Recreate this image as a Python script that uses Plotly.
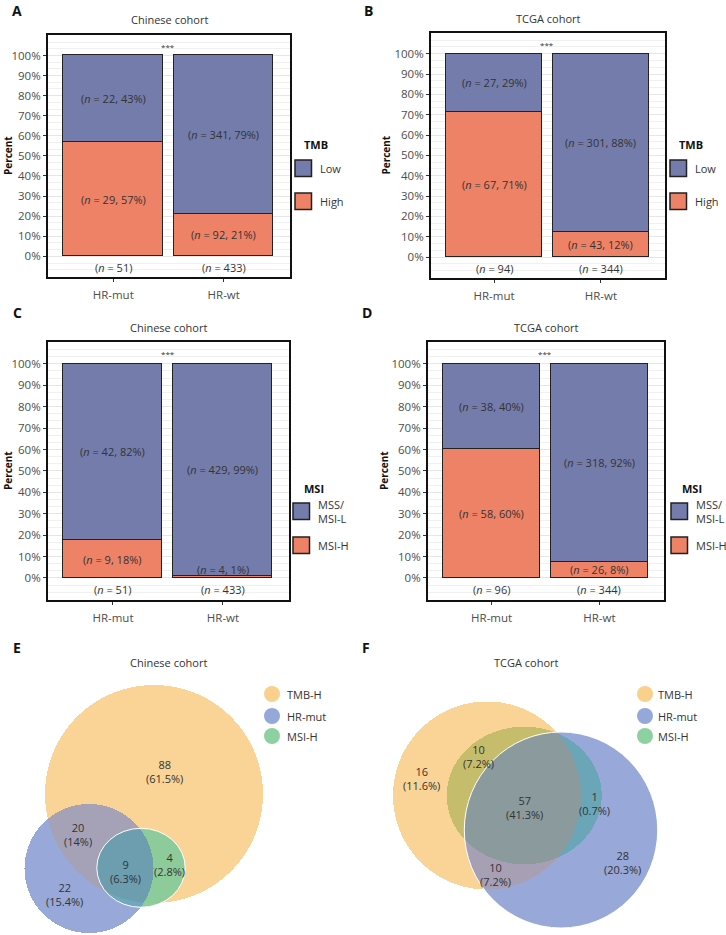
import numpy as np
import plotly.graph_objects as go

W, H = 726, 935

groups = ["HR-mut", "HR-wt"]

# TMB status by HR group (A: Chinese, B: TCGA)
tmb_cn_high = [29, 92]
tmb_cn_low = [22, 341]
tmb_cn_high_pct = [57, 21]
tmb_cn_low_pct = [43, 79]

tmb_tcga_high = [67, 43]
tmb_tcga_low = [27, 301]
tmb_tcga_high_pct = [71, 12]
tmb_tcga_low_pct = [29, 88]

# MSI status by HR group (C: Chinese, D: TCGA)
msi_cn_high = [9, 4]
msi_cn_low = [42, 429]
msi_cn_high_pct = [18, 1]
msi_cn_low_pct = [82, 99]

msi_tcga_high = [58, 26]
msi_tcga_low = [38, 318]
msi_tcga_high_pct = [60, 8]
msi_tcga_low_pct = [40, 92]

# Venn region counts (E: Chinese, F: TCGA)
venn_sets = ["TMB-H", "HR-mut", "MSI-H"]
venn_cn_counts = [88, 20, 9, 4, 22]
venn_cn_pct = [61.5, 14, 6.3, 2.8, 15.4]
venn_tcga_counts = [16, 10, 57, 1, 10, 28]
venn_tcga_pct = [11.6, 7.2, 41.3, 0.7, 7.2, 20.3]

pct_ticks = list(range(0, 101, 10))

LOW = "#747CAB"
HIGH = "#EE8266"
TXT = "#333333"
TICK = "#4D4D4D"
FONT = "Open Sans"


def px(x):
    return x / W


def py(y):
    return 1 - y / H


panels = [
    dict(letter="A", lpos=(17, 10), title="Chinese cohort", frame=(48, 35, 290, 277),
         high=tmb_cn_high, low=tmb_cn_low, hp=tmb_cn_high_pct, lp=tmb_cn_low_pct,
         legend="TMB", names=["Low", "High"], key_x=295, key_y=[160, 193], ylab_x=8),
    dict(letter="B", lpos=(368, 10), title="TCGA cohort", frame=(431, 33, 665, 278),
         high=tmb_tcga_high, low=tmb_tcga_low, hp=tmb_tcga_high_pct, lp=tmb_tcga_low_pct,
         legend="TMB", names=["Low", "High"], key_x=670, key_y=[160, 193], ylab_x=386),
    dict(letter="C", lpos=(17, 313), title="Chinese cohort", frame=(48, 342, 289, 600),
         high=msi_cn_high, low=msi_cn_low, hp=msi_cn_high_pct, lp=msi_cn_low_pct,
         legend="MSI", names=["MSS/<br>MSI-L", "MSI-H"], key_x=293, key_y=[503, 537], ylab_x=8),
    dict(letter="D", lpos=(367, 313), title="TCGA cohort", frame=(428, 342, 664, 600),
         high=msi_tcga_high, low=msi_tcga_low, hp=msi_tcga_high_pct, lp=msi_tcga_low_pct,
         legend="MSI", names=["MSS/<br>MSI-L", "MSI-H"], key_x=671, key_y=[503, 537], ylab_x=384),
]

fig = go.Figure()
annotations = []
shapes = []
layout_axes = {}


def ann(text, x, y, size=11, color=TXT, bold=False, xanchor="center", **kw):
    if bold:
        text = f"<b>{text}</b>"
    d = dict(text=text, x=x, y=y, showarrow=False, xanchor=xanchor, yanchor="middle",
             font=dict(family=FONT, size=size, color=color))
    d.setdefault("xref", "paper")
    d.setdefault("yref", "paper")
    d.update(kw)
    annotations.append(d)


for i, p in enumerate(panels, start=1):
    x0, y0, x1, y1 = p["frame"]
    xa, ya = f"x{i}", f"y{i}"
    tot = [h + l for h, l in zip(p["high"], p["low"])]
    hs = [h / t * 100 for h, t in zip(p["high"], tot)]
    ls = [l / t * 100 for l, t in zip(p["low"], tot)]

    fig.add_trace(go.Bar(x=groups, y=hs, xaxis=xa, yaxis=ya, width=0.9,
                         marker=dict(color=HIGH, line=dict(color="#222222", width=1.5)),
                         showlegend=False, hoverinfo="skip"))
    fig.add_trace(go.Bar(x=groups, y=ls, xaxis=xa, yaxis=ya, width=0.9,
                         marker=dict(color=LOW, line=dict(color="#222222", width=1.5)),
                         showlegend=False, hoverinfo="skip"))

    for j, g in enumerate(groups):
        ann(f"(<i>n</i> = {p['high'][j]}, {p['hp'][j]}%)", j, max(hs[j] / 2, 4),
            xref=xa, yref=ya)
        ann(f"(<i>n</i> = {p['low'][j]}, {p['lp'][j]}%)", j, hs[j] + ls[j] / 2,
            xref=xa, yref=ya)
        ann(f"(<i>n</i> = {tot[j]})", j, -5.6, xref=xa, yref=ya)
    ann("***", 0.5, 104.6, size=8, xref=xa, yref=ya)

    sfx = "" if i == 1 else str(i)
    layout_axes[f"xaxis{sfx}"] = dict(
        domain=[px(x0), px(x1)], anchor=ya, range=[-0.59, 1.6],
        showline=True, mirror=True, linecolor="#111111", linewidth=2,
        ticks="outside", ticklen=3, tickcolor="#333333",
        tickfont=dict(family=FONT, size=11.5, color=TICK),
        showgrid=False, zeroline=False, ticklabelstandoff=3)
    layout_axes[f"yaxis{sfx}"] = dict(
        domain=[py(y1), py(y0)], anchor=xa, range=[-10.3, 110.2],
        tickmode="array", tickvals=pct_ticks, ticktext=[f"{v}%" for v in pct_ticks],
        showline=True, mirror=True, linecolor="#111111", linewidth=2,
        ticks="outside", ticklen=3, tickcolor="#333333",
        tickfont=dict(family=FONT, size=11.5, color=TICK),
        showgrid=True, gridcolor="#E6E6E6", gridwidth=1, zeroline=False,
        minor=dict(tickmode="linear", tick0=0, dtick=10 / 3, showgrid=True,
                   gridcolor="#F0F0F0", gridwidth=1))

    # titles, panel letter, y label
    ann(p["title"], px((x0 + x1) / 2), py(y0 - 15))
    ann(p["letter"], px(p["lpos"][0]), py(p["lpos"][1]), size=14, color="#111111", bold=True)
    ann("Percent", px(p["ylab_x"]), py((y0 + y1) / 2), size=10, color="#111111",
        bold=True, textangle=-90)

    # legend
    kx = p["key_x"]
    ann(p["legend"], px(kx + 21), py(p["key_y"][0] - 15), size=11, color="#111111", bold=True)
    for name, col, ky in zip(p["names"], [LOW, HIGH], p["key_y"]):
        shapes.append(dict(type="rect", xref="paper", yref="paper",
                           x0=px(kx), x1=px(kx + 16.5), y0=py(ky + 16.5), y1=py(ky),
                           fillcolor=col, line=dict(color="#222222", width=1.5)))
        ann(name, px(kx + 23), py(ky + 8.25), size=11, color=TXT, xanchor="left",
            align="left")

# ---- Venn diagrams (pixel-unit axes) ----
venn_panels = [
    dict(letter="E", lpos=(17, 647), title="Chinese cohort", tpos=(168, 662),
         xr=(0, 363),
         ellipses=[(154, 794, 109, 109), (89, 868.5, 64.5, 64.5), (141, 867.8, 44.2, 39.5)],
         colors={1: "#F9D496", 2: "#97A8D9", 3: "#A5A1B6", 4: "#8DCF9B",
                 5: "#8ECB9A", 6: "#6FA7BE", 7: "#6C9EB0"},
         counts=venn_cn_counts, pct=venn_cn_pct,
         label_pos=[(164, 771), (78, 834), (125, 871.5), (169, 864), (64, 894)],
         outline=2, leg_x=272, leg_text_x=285),
    dict(letter="F", lpos=(366, 647), title="TCGA cohort", tpos=(526, 662),
         xr=(363, 726),
         ellipses=[(487, 795.5, 94, 94), (561, 830, 96.7, 98), (524.2, 795.5, 77.5, 68.8)],
         colors={1: "#F9D496", 2: "#97A8D9", 3: "#A7A0B4", 4: "#8DCF9B",
                 5: "#C6BD6C", 6: "#6AA6B8", 7: "#8A9A9D"},
         counts=venn_tcga_counts, pct=venn_tcga_pct,
         label_pos=[(421, 778), (478, 756), (524, 807.5), (594, 803.7), (495, 874.7), (622, 862.5)],
         outline=1, leg_x=645, leg_text_x=656),
]
leg_cols = ["#F9D08C", "#94A9DA", "#8ED1A0"]
leg_y = [694, 716, 736]

for k, v in enumerate(venn_panels, start=5):
    xa, ya = f"x{k}", f"y{k}"
    xs = np.arange(v["xr"][0], v["xr"][1]) + 0.5
    ys = np.arange(640, 935) + 0.5
    gx, gy = np.meshgrid(xs, ys)
    code = np.zeros_like(gx)
    for bit, (cx, cy, rx, ry) in enumerate(v["ellipses"]):
        code += (((gx - cx) / rx) ** 2 + ((gy - cy) / ry) ** 2 <= 1) * (2 ** bit)
    z = np.where(code > 0, code, np.nan)
    scale = []
    for c in range(1, 8):
        scale += [[(c - 1) / 7, v["colors"][c]], [c / 7, v["colors"][c]]]
    fig.add_trace(go.Heatmap(x=xs, y=ys, z=z, zmin=0.5, zmax=7.5, colorscale=scale,
                             showscale=False, hoverinfo="skip", xaxis=xa, yaxis=ya))

    cx, cy, rx, ry = v["ellipses"][v["outline"]]
    shapes.append(dict(type="circle", xref=xa, yref=ya, x0=cx - rx, x1=cx + rx,
                       y0=cy - ry, y1=cy + ry, line=dict(color="white", width=1)))

    for (lx, ly), n, pc in zip(v["label_pos"], v["counts"], v["pct"]):
        ann(f"{n}<br>({pc:g}%)", lx, ly, size=11, color=TXT, xref=xa, yref=ya)

    for name, col, ly in zip(venn_sets, leg_cols, leg_y):
        shapes.append(dict(type="circle", xref=xa, yref=ya,
                           x0=v["leg_x"] - 8, x1=v["leg_x"] + 8, y0=ly - 8, y1=ly + 8,
                           fillcolor=col, line=dict(width=0)))
        ann(name, v["leg_text_x"], ly, size=11, color=TXT, xanchor="left", xref=xa, yref=ya)

    ann(v["title"], px(v["tpos"][0]), py(v["tpos"][1]))
    ann(v["letter"], px(v["lpos"][0]), py(v["lpos"][1]), size=14, color="#111111", bold=True)

    layout_axes[f"xaxis{k}"] = dict(domain=[px(v["xr"][0]), px(v["xr"][1])], anchor=ya,
                                    range=list(v["xr"]), visible=False)
    layout_axes[f"yaxis{k}"] = dict(domain=[0, py(640)], anchor=xa, range=[935, 640],
                                    visible=False)

fig.update_layout(
    width=W,
    height=H,
    margin=dict(l=0, r=0, t=0, b=0),
    barmode="stack",
    bargap=0,
    plot_bgcolor="white",
    paper_bgcolor="white",
    font=dict(family=FONT, color=TXT),
    annotations=annotations,
    shapes=shapes,
    showlegend=False,
    **layout_axes,
)

fig.write_html("out.html", config={"displayModeBar": False},
               post_script="document.body.style.margin = '0px';")
